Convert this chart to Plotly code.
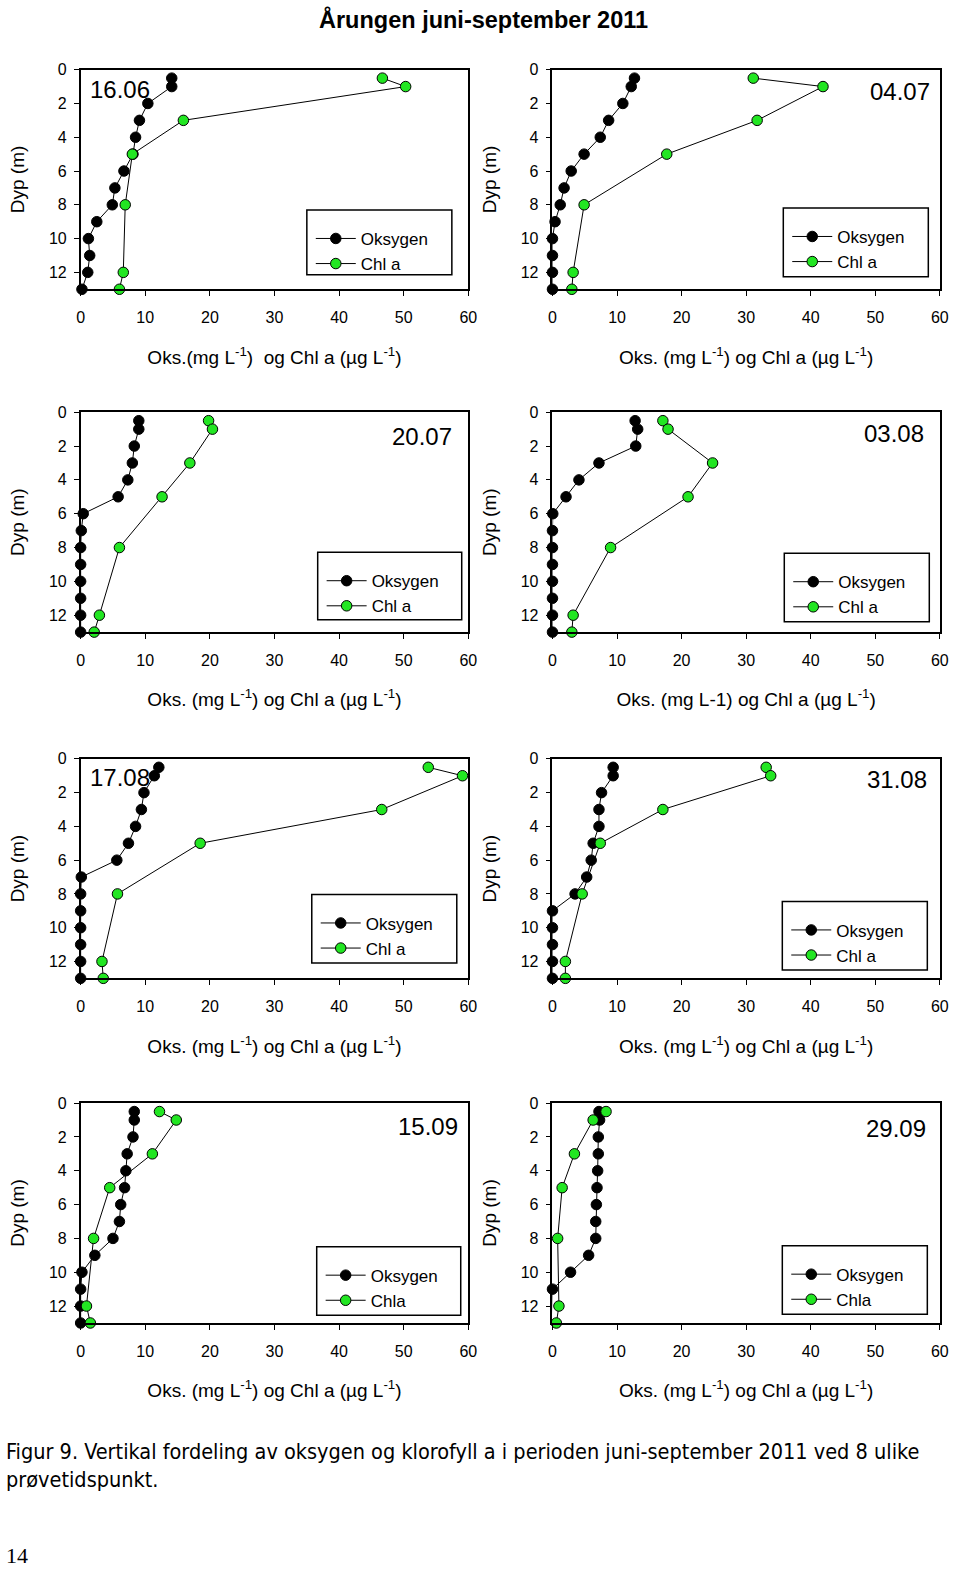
import plotly.graph_objects as go

# ---------------- data ----------------
dates = ["16.06", "04.07", "20.07", "03.08", "17.08", "31.08", "15.09", "29.09"]
depth_oks = [0.5, 1, 2, 3, 4, 5, 6, 7, 8, 9, 10, 11, 12, 13]
depth_chl = [0.5, 1, 3, 5, 8, 12, 13]

oks_1606 = [14.1, 14.1, 10.4, 9.1, 8.5, 8.1, 6.7, 5.3, 4.9, 2.5, 1.2, 1.4, 1.1, 0.2]
chl_1606 = [46.7, 50.3, 15.9, 8.0, 6.9, 6.6, 6.0]
oks_0407 = [12.7, 12.2, 10.9, 8.7, 7.4, 4.9, 2.9, 1.8, 1.2, 0.4, 0.0, 0.0, 0.0, 0.0]
chl_0407 = [31.1, 41.9, 31.7, 17.7, 4.9, 3.2, 3.0]
oks_2007 = [9.0, 9.0, 8.3, 8.0, 7.3, 5.8, 0.4, 0.1, 0.0, 0.0, 0.0, 0.0, 0.0, 0.0]
chl_2007 = [19.8, 20.4, 16.9, 12.6, 6.0, 2.9, 2.1]
oks_0308 = [12.8, 13.2, 12.9, 7.2, 4.1, 2.1, 0.05, 0.0, 0.0, 0.0, 0.0, 0.0, 0.0, 0.0]
chl_0308 = [17.1, 17.9, 24.8, 21.0, 9.0, 3.2, 3.0]
oks_1708 = [12.1, 11.4, 9.8, 9.4, 8.5, 7.4, 5.6, 0.1, 0.0, 0.0, 0.0, 0.0, 0.0, 0.0]
chl_1708 = [53.8, 59.1, 46.6, 18.5, 5.7, 3.3, 3.5]
oks_3108 = [9.4, 9.4, 7.6, 7.2, 7.2, 6.3, 6.0, 5.3, 3.5, 0.0, 0.0, 0.0, 0.0, 0.0]
chl_3108 = [33.1, 33.8, 17.1, 7.4, 4.6, 2.0, 2.0]
oks_1509 = [8.3, 8.3, 8.1, 7.2, 7.0, 6.8, 6.2, 6.0, 5.0, 2.2, 0.2, 0.0, 0.0, 0.0]
chl_1509 = [12.2, 14.8, 11.1, 4.5, 2.0, 0.9, 1.5]
oks_2909 = [7.2, 7.3, 7.1, 7.1, 7.0, 6.9, 6.8, 6.7, 6.7, 5.6, 2.8, 0.0, -0.1, -0.2]
chl_2909 = [8.3, 6.3, 3.4, 1.5, 0.8, 1.0, 0.6]

oks_series = [oks_1606, oks_0407, oks_2007, oks_0308, oks_1708, oks_3108, oks_1509, oks_2909]
chl_series = [chl_1606, chl_0407, chl_2007, chl_0308, chl_1708, chl_3108, chl_1509, chl_2909]
chl_names = ["Chl a", "Chl a", "Chl a", "Chl a", "Chl a", "Chl a", "Chla", "Chla"]

sup = "<sup>-1</sup>"
x_titles = [
    f"Oks.(mg L{sup})  og Chl a (µg L{sup})",
    f"Oks. (mg L{sup}) og Chl a (µg L{sup})",
    f"Oks. (mg L{sup}) og Chl a (µg L{sup})",
    f"Oks. (mg L-1) og Chl a (µg L{sup})",
    f"Oks. (mg L{sup}) og Chl a (µg L{sup})",
    f"Oks. (mg L{sup}) og Chl a (µg L{sup})",
    f"Oks. (mg L{sup}) og Chl a (µg L{sup})",
    f"Oks. (mg L{sup}) og Chl a (µg L{sup})",
]
x_ticks = [0, 10, 20, 30, 40, 50, 60]
y_ticks = [0, 2, 4, 6, 8, 10, 12]
y_title = "Dyp (m)"
main_title = "Årungen juni-september 2011"
caption = ("Figur 9. Vertikal fordeling av oksygen og klorofyll a i perioden juni-september 2011 ved 8 ulike"
           "<br>prøvetidspunkt.")
page_no = "14"

# ---------------- layout geometry (pixels) ----------------
W, H = 960, 1572
col_px = [(77.7, 470.7), (556.0, 948.7)]
row_px = [(62.0, 282.7), (406.3, 627.3), (754.7, 975.3), (1100.7, 1321.7)]
# legend frame boxes: left, top, right, bottom
legbox_px = [(307, 203, 454, 268), (790, 201, 937, 270), (318, 547, 464, 615), (791, 548, 938, 617),
             (312, 891, 459, 960), (789, 898, 936, 967), (317, 1245, 463, 1314), (789, 1244, 936, 1313)]
date_px = [("left", 85, 82), ("right", 941, 84), ("right", 456, 431), ("right", 935, 428),
           ("left", 85, 773), ("right", 938, 775), ("right", 462, 1124), ("right", 937, 1126)]

FONT = "Liberation Sans, Arial, sans-serif"
GREEN = "#22e622"

fig = go.Figure()
layout = dict(
    width=W, height=H, margin=dict(l=0, r=0, t=0, b=0),
    paper_bgcolor="white", plot_bgcolor="white",
    font=dict(family=FONT, color="black", size=16),
    showlegend=True,
)
annotations = []
shapes = []

for i in range(8):
    r, c = divmod(i, 2)
    ax = "" if i == 0 else str(i + 1)
    x0, x1 = col_px[c]
    yt, yb = row_px[r]
    leg = "legend" if i == 0 else f"legend{i + 1}"

    fig.add_trace(go.Scatter(
        x=oks_series[i], y=depth_oks, mode="lines+markers", name="Oksygen",
        xaxis="x" + ax, yaxis="y" + ax, legend=leg, cliponaxis=False,
        line=dict(color="black", width=1),
        marker=dict(color="black", size=10.5, line=dict(color="black", width=1)),
    ))
    fig.add_trace(go.Scatter(
        x=chl_series[i], y=depth_chl, mode="lines+markers", name=chl_names[i],
        xaxis="x" + ax, yaxis="y" + ax, legend=leg, cliponaxis=False,
        line=dict(color="black", width=1),
        marker=dict(color=GREEN, size=10.5, line=dict(color="black", width=1)),
    ))

    layout["xaxis" + ax] = dict(
        domain=[x0 / W, x1 / W], anchor="y" + ax, range=[0, 60],
        tickvals=x_ticks, ticks="outside", ticklen=5, tickwidth=1, tickcolor="black",
        showline=True, mirror=True, linecolor="black", linewidth=1.5,
        showgrid=False, zeroline=False, ticklabelstandoff=8,
        tickfont=dict(size=16, family=FONT),
        title=dict(text=x_titles[i], font=dict(size=19, family=FONT), standoff=25),
    )
    layout["yaxis" + ax] = dict(
        domain=[1 - yb / H, 1 - yt / H], anchor="x" + ax, range=[13, 0],
        tickvals=y_ticks, ticks="outside", ticklen=5, tickwidth=1, tickcolor="black",
        showline=True, mirror=True, linecolor="black", linewidth=1.5,
        showgrid=False, zeroline=False, ticklabelstandoff=4,
        tickfont=dict(size=16, family=FONT),
        title=dict(text=y_title, font=dict(size=19, family=FONT), standoff=19),
    )
    bl, bt, br, bb = legbox_px[i]
    shapes.append(dict(
        type="rect", xref="paper", yref="paper",
        x0=bl / W, x1=br / W, y0=1 - bb / H, y1=1 - bt / H,
        line=dict(color="black", width=1.5), fillcolor="white", layer="below",
    ))
    layout[leg] = dict(
        x=(bl + 4) / W, y=1 - (bt + 11) / H, xanchor="left", yanchor="top",
        borderwidth=0, bgcolor="rgba(0,0,0,0)",
        font=dict(size=17, family=FONT), itemwidth=40, tracegroupgap=0,
    )
    align, dx, dy = date_px[i]
    annotations.append(dict(
        text=dates[i], x=dx / W, y=1 - dy / H, xref="paper", yref="paper",
        xanchor=align, yanchor="middle", showarrow=False,
        font=dict(size=24, family=FONT, color="black"),
    ))

annotations.append(dict(
    text=f"<b>{main_title}</b>", x=486 / W, y=1 - 12 / H, xref="paper", yref="paper",
    xanchor="center", yanchor="middle", showarrow=False,
    font=dict(size=23.5, family=FONT, color="black"),
))
annotations.append(dict(
    text=caption, x=0, y=1 - 1436 / H, xref="paper", yref="paper",
    xanchor="left", yanchor="top", align="left", showarrow=False,
    font=dict(size=21.5, family="Liberation Sans Narrow, DejaVu Sans Condensed, sans-serif", color="black"),
))
annotations.append(dict(
    text=page_no, x=0, y=1 - 1555 / H, xref="paper", yref="paper",
    xanchor="left", yanchor="middle", showarrow=False,
    font=dict(size=22, family="Liberation Serif, serif", color="black"),
))
layout["annotations"] = annotations
layout["shapes"] = shapes
fig.update_layout(**layout)

fig.write_html(
    "out.html",
    config={"displayModeBar": False},
    post_script="document.body.style.margin='0';document.body.style.overflow='hidden';",
)
